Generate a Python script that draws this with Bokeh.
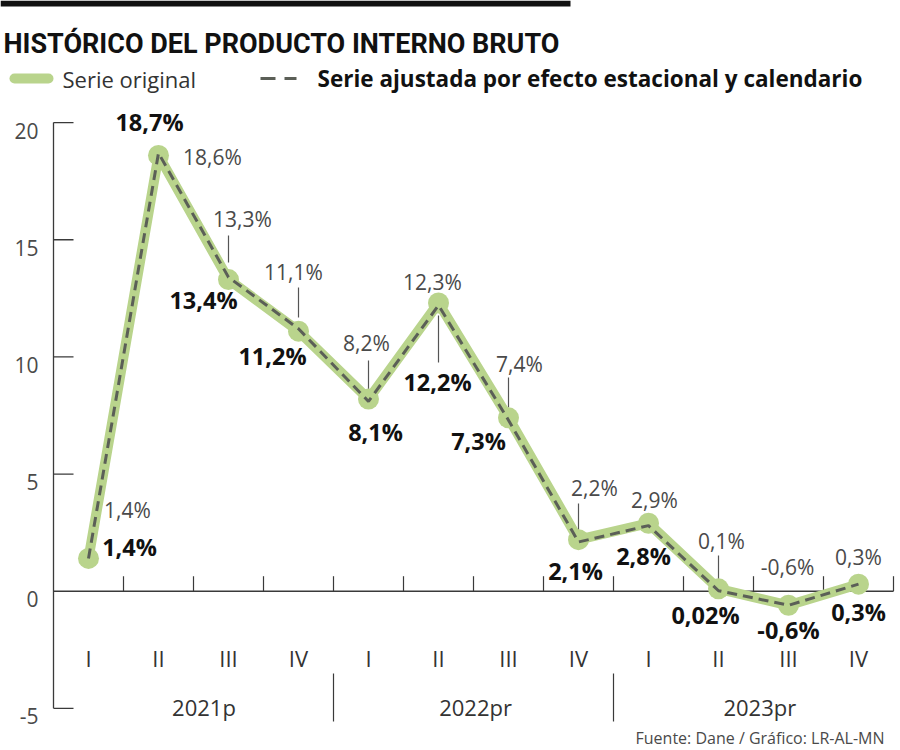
from bokeh.plotting import figure
from bokeh.models import Range1d, ColumnDataSource
from bokeh.core.properties import value
from bokeh.embed import file_html
from bokeh.resources import INLINE

# ---------------- data ----------------
quarters = ["I", "II", "III", "IV", "I", "II", "III", "IV", "I", "II", "III", "IV"]
years = ["2021p", "2022pr", "2023pr"]
serie_original = [1.4, 18.6, 13.3, 11.1, 8.2, 12.3, 7.4, 2.2, 2.9, 0.1, -0.6, 0.3]
serie_ajustada = [1.4, 18.7, 13.4, 11.2, 8.1, 12.2, 7.3, 2.1, 2.8, 0.02, -0.6, 0.3]
labels_original = ["1,4%", "18,6%", "13,3%", "11,1%", "8,2%", "12,3%", "7,4%", "2,2%", "2,9%", "0,1%", "-0,6%", "0,3%"]
labels_ajustada = ["1,4%", "18,7%", "13,4%", "11,2%", "8,1%", "12,2%", "7,3%", "2,1%", "2,8%", "0,02%", "-0,6%", "0,3%"]
y_ticks = [-5, 0, 5, 10, 15, 20]
y_tick_labels = ["-5", "0", "5", "10", "15", "20"]

title_text = "HISTÓRICO DEL PRODUCTO INTERNO BRUTO"
legend_original = "Serie original"
legend_ajustada = "Serie ajustada por efecto estacional y calendario"
source_text = "Fuente: Dane / Gráfico: LR-AL-MN"

# ---------------- layout / style ----------------
GREEN = "#b9d48c"
DASH = "#5b5f57"
LIGHT = "#4a4a4a"
DARK = "#111111"
AXIS = "#3a3a3a"
PX_X = 70.0      # pixels per category
PX_Y = 23.43     # pixels per unit
X0_PX = 53.0     # pixel of the y axis
Y0_PX = 590.7    # pixel of zero

def dx(px):  # pixel -> data x
    return (px - X0_PX) / PX_X

def dy(py):  # pixel -> data y
    return (Y0_PX - py) / PX_Y

n = len(serie_original)
xs = [i + 0.5 for i in range(n)]

# label offsets in pixels (screen, y down)
orig_off_x = [39, 54, 14, -5, -2, -6, 11, 16, 6, 3, -1, 0]
orig_off_y = [-48, 2, -61, -59, -56, -21, -54, -52, -23, -48, -38, -27]
adj_off_x = [41, -9, -25, -26, 7, -1, -30, -3, -5, -13, 0, 0]
adj_off_y = [-11, -31, 23, 27, 31, 77, 21, 29, 30, 24, 25, 28]

# leader lines (index, top px, bottom px)
leaders = [(2, 235, 262), (3, 287, 317), (4, 360, 390), (5, 315, 362),
           (6, 377, 407), (7, 503, 535), (9, 555, 580)]

p = figure(width=900, height=750,
           x_range=Range1d(dx(0), dx(900)), y_range=Range1d(dy(750), dy(0)),
           min_border=0, toolbar_location=None, output_backend="svg",
           x_axis_location=None, y_axis_location=None)
p.outline_line_color = None
p.grid.visible = False
p.background_fill_color = "white"
p.border_fill_color = "white"

# top black bar
p.quad(left=[dx(0)], right=[dx(570)], top=[dy(0)], bottom=[dy(6)],
       fill_color="#111111", line_color=None)

# title
p.text(x=[dx(3)], y=[dy(43)], text=[title_text],
       text_font=value("Roboto"), text_font_style="bold",
       text_font_size="27px", text_color="#111111",
       text_baseline="alphabetic", text_align="left")

# legend
p.line(x=[dx(14), dx(48)], y=[dy(78), dy(78)], line_width=10, line_color=GREEN, line_cap="round")
p.text(x=[dx(62)], y=[dy(78)], text=[legend_original], text_font=value("Open Sans"),
       text_font_size="22px", text_color="#333333", text_baseline="middle")
p.line(x=[dx(260), dx(296)], y=[dy(78), dy(78)], line_width=3, line_color=DASH, line_dash="15 9")
p.text(x=[dx(317)], y=[dy(78)], text=[legend_ajustada], text_font=value("Open Sans"),
       text_font_style="bold", text_font_size="22.5px", text_color=DARK, text_baseline="middle")

# y axis
p.segment(x0=[0], y0=[y_ticks[0]], x1=[0], y1=[y_ticks[-1]], line_color=AXIS, line_width=1.3)
tick_ys = [t for t in y_ticks if t != 0]
p.segment(x0=[0] * len(tick_ys), y0=tick_ys, x1=[20 / PX_X] * len(tick_ys), y1=tick_ys,
          line_color=AXIS, line_width=1.3)
p.text(x=[dx(38)] * len(y_ticks), y=y_ticks, text=y_tick_labels, text_font=value("Open Sans"),
       text_font_size="21px", text_color=LIGHT, text_align="right", text_baseline="middle",
       y_offset=8)

# zero line and category ticks
p.segment(x0=[0], y0=[0], x1=[n], y1=[0], line_color=AXIS, line_width=1.5)
bounds = list(range(1, n + 1))
p.segment(x0=bounds, y0=[0] * n, x1=bounds, y1=[15 / PX_Y] * n, line_color=AXIS, line_width=1.2)

# quarter and year labels
p.text(x=xs, y=[dy(657)] * n, text=quarters, text_font=value("Open Sans"),
       text_font_size="22px", text_color="#333333", text_align="center", text_baseline="middle")
year_x = [2.15, 6.03, 10.09]
p.text(x=year_x, y=[dy(706)] * 3, text=years, text_font=value("Open Sans"),
       text_font_size="22px", text_color="#333333", text_align="center", text_baseline="middle")
seps = [4, 8]
p.segment(x0=seps, y0=[dy(673)] * 2, x1=seps, y1=[dy(721)] * 2, line_color=AXIS, line_width=1.2)

# leader lines
lx = [xs[i] for i, _, _ in leaders]
p.segment(x0=lx, y0=[dy(t) for _, t, _ in leaders], x1=lx, y1=[dy(b) for _, _, b in leaders],
          line_color="#555555", line_width=1.2)

# series
p.line(xs, serie_original, line_width=10, line_color=GREEN, line_join="round", line_cap="round")
p.scatter(xs, serie_original, size=21, fill_color=GREEN, line_color=None)
p.line(xs, serie_ajustada, line_width=3, line_color=DASH, line_dash="10 6")

# data labels
src_o = ColumnDataSource(dict(x=xs, y=serie_original, t=labels_original, ox=orig_off_x, oy=orig_off_y))
p.text(x="x", y="y", text="t", x_offset="ox", y_offset="oy", source=src_o,
       text_font=value("Open Sans"), text_font_size="21px", text_color=LIGHT,
       text_align="center", text_baseline="middle")
src_a = ColumnDataSource(dict(x=xs, y=serie_ajustada, t=labels_ajustada, ox=adj_off_x, oy=adj_off_y))
p.text(x="x", y="y", text="t", x_offset="ox", y_offset="oy", source=src_a,
       text_font=value("Open Sans"), text_font_style="bold", text_font_size="23.5px",
       text_color=DARK, text_align="center", text_baseline="middle")

# source note
p.text(x=[dx(884)], y=[dy(737)], text=[source_text], text_font=value("Open Sans"),
       text_font_size="16px", text_color=LIGHT, text_align="right", text_baseline="middle")

open("out.html", "w").write(file_html(p, INLINE))
